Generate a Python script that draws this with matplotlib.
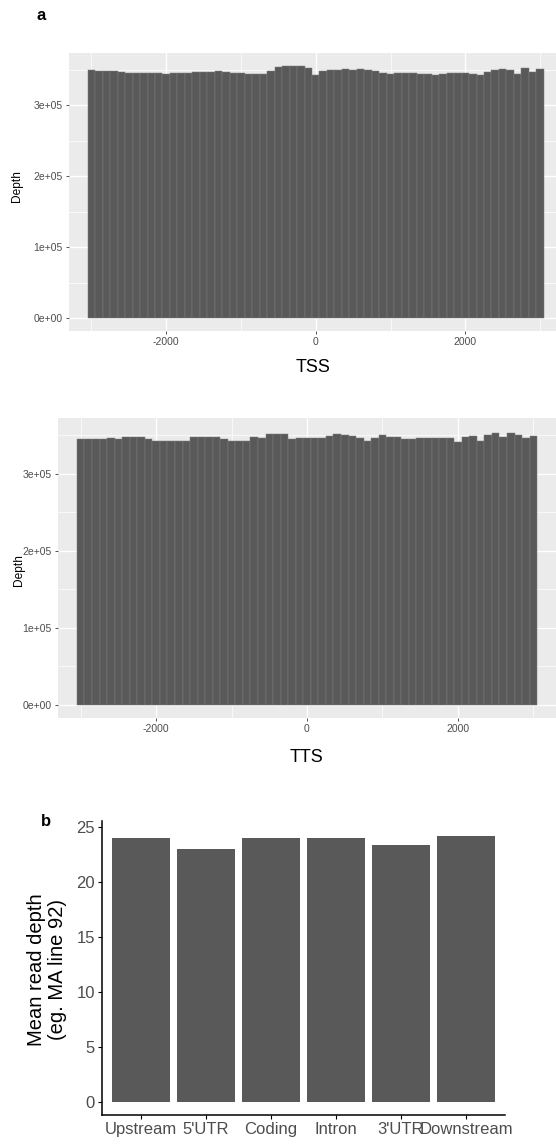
import numpy as np
import matplotlib
matplotlib.use("Agg")
import matplotlib.pyplot as plt

plt.rcParams['font.family'] = ['Liberation Sans', 'DejaVu Sans']
plt.rcParams['axes.unicode_minus'] = False

positions = list(range(-3000, 3001, 100))
tss_depth_k = [350, 349, 348.5, 348, 347, 346.5, 346, 346, 345.5, 345.5,
               345, 345.5, 346, 346.5, 347, 347, 347.5, 348, 347.5, 346.5,
               345.5, 344, 344, 345, 349, 354, 356, 355.5, 356, 353,
               343, 348, 350, 350.5, 351, 350.5, 351, 350, 348, 346,
               344, 345.5, 346, 345.5, 345, 345, 343.5, 344.5, 345.5, 346,
               346, 345, 343, 347, 350, 351, 350.5, 344, 353, 347, 351]
tts_depth_k = [345.5, 345, 345, 346, 346.5, 346, 347.5, 348, 347.5, 346,
               343, 342.5, 342.5, 342.5, 343, 347.5, 348, 348, 347.5, 346,
               343, 342.5, 343, 348, 347, 352, 352.5, 352, 345, 346.5,
               347, 347, 346.5, 349, 351.5, 350, 349.5, 347, 342.5, 347,
               350, 347.5, 348, 345.5, 346, 346.5, 346.5, 347, 347, 346.5,
               342, 348, 349, 342.5, 350, 353, 347.5, 353.5, 350, 346.5, 349]

regions = ["Upstream", "5'UTR", "Coding", "Intron", "3'UTR", "Downstream"]
mean_depth = [24.0, 23.0, 24.0, 24.0, 23.4, 24.2]

W, H = 556, 1145
fig = plt.figure(figsize=(W / 100, H / 100), dpi=100)


def px_axes(l, t, r, b):
    return fig.add_axes([l / W, 1 - b / H, (r - l) / W, (b - t) / H])


def fig_text(x, y, s, **kw):
    fig.text(x / W, 1 - y / H, s, **kw)


def profile_panel(ax, depth_k, ylim):
    depth = np.array(depth_k) * 1000
    ax.set_facecolor('#EBEBEB')
    ax.bar(positions, depth, width=100, color='#595959',
           edgecolor='#7d7d7d', linewidth=0.35, zorder=2)
    ax.set_xlim(-3300, 3300)
    ax.set_ylim(*ylim)
    ax.set_xticks([-2000, 0, 2000])
    ax.set_xticks([-3000, -1000, 1000, 3000], minor=True)
    ax.set_yticks([0, 100000, 200000, 300000])
    ax.set_yticks([50000, 150000, 250000, 350000], minor=True)
    ax.set_yticklabels(['0e+00', '1e+05', '2e+05', '3e+05'])
    ax.grid(which='major', color='white', linewidth=1.0, zorder=0)
    ax.grid(which='minor', color='white', linewidth=0.5, zorder=0)
    ax.set_axisbelow(True)
    for s in ax.spines.values():
        s.set_visible(False)
    ax.tick_params(which='major', length=2.5, width=0.6, color='#333333',
                   labelsize=7.5, labelcolor='#4D4D4D', pad=2)
    ax.tick_params(which='minor', length=0)


# panel a, TSS
ax1 = px_axes(69, 53, 562.5, 331)
profile_panel(ax1, tss_depth_k, (-18000, 374000))
fig_text(41, 16, 'a', fontsize=12, fontweight='bold', ha='center', va='center')
fig_text(17, 186, 'Depth', fontsize=8.6, rotation=90, ha='center', va='center')
fig_text(313, 368, 'TSS', fontsize=13, ha='center', va='center')

# panel a, TTS
ax2 = px_axes(58, 418, 556, 718)
profile_panel(ax2, tts_depth_k, (-16900, 372700))
fig_text(19, 570, 'Depth', fontsize=8.6, rotation=90, ha='center', va='center')
fig_text(307, 757, 'TTS', fontsize=13, ha='center', va='center')

# panel b
ax3 = px_axes(102, 821, 505, 1115)
xpos = np.arange(1, len(regions) + 1)
ax3.bar(xpos, mean_depth, width=0.9, color='#595959')
ax3.set_xlim(0.4, 6.6)
ax3.set_ylim(-1.2, 25.55)
ax3.set_xticks(xpos)
ax3.set_xticklabels(regions)
ax3.set_yticks([0, 5, 10, 15, 20, 25])
ax3.spines[['top', 'right']].set_visible(False)
for s in ['left', 'bottom']:
    ax3.spines[s].set_linewidth(1.1)
ax3.tick_params(length=3, width=0.8, color='black', labelsize=12,
                labelcolor='#4D4D4D', pad=2)
fig_text(47, 970, 'Mean read depth\n(eg. MA line 92)', fontsize=14.5,
         rotation=90, ha='center', va='center', linespacing=1.15)
fig_text(46, 821, 'b', fontsize=12, fontweight='bold', ha='center', va='center')

fig.savefig('out.png', dpi=100)
